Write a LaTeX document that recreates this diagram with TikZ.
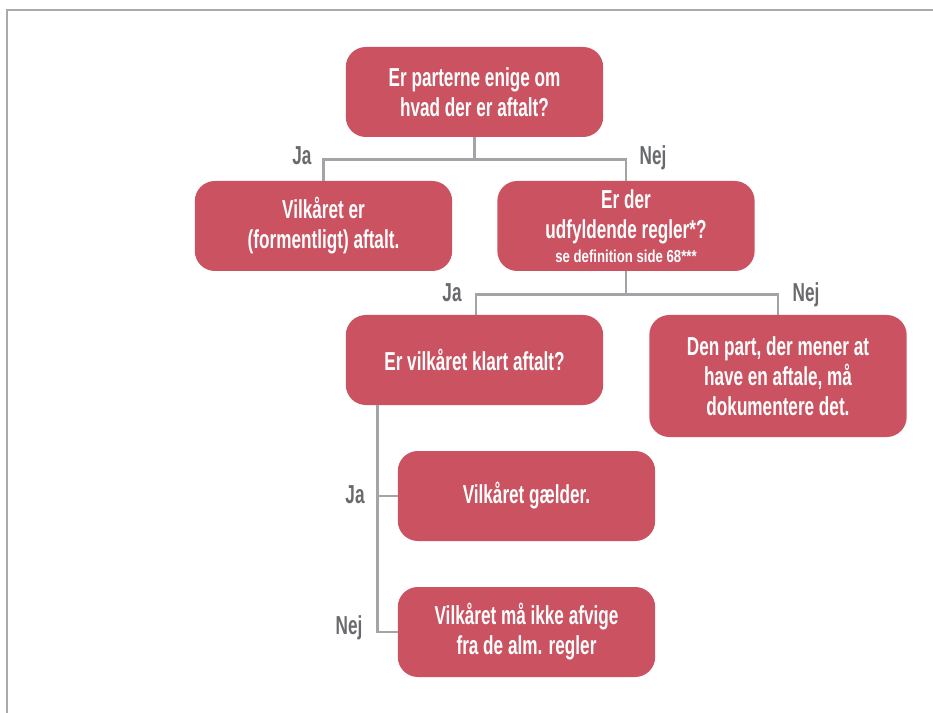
\documentclass[tikz,border=0pt]{standalone}
\usepackage{fontspec}
\newfontfamily\condfont{Liberation Sans}[FakeStretch=0.66]
\newfontfamily\smallcondfont{Liberation Sans}[FakeStretch=0.76]
\definecolor{boxred}{RGB}{203,82,97}
\definecolor{linegray}{RGB}{163,164,168}
\definecolor{labelgray}{RGB}{105,106,110}
\definecolor{framegray}{RGB}{170,170,170}
\begin{document}
\begin{tikzpicture}[
  x=0.75pt, y=-0.75pt,
  box/.style={draw=none, fill=boxred, rounded corners=15pt, text=white,
    align=center, inner sep=0pt, minimum width=193pt, minimum height=67.5pt,
    font=\condfont\bfseries\fontsize{19.5}{22.5}\selectfont},
  conn/.style={draw=linegray, line width=2pt},
  lbl/.style={text=labelgray, anchor=base, inner sep=0pt,
    font=\condfont\bfseries\fontsize{19.5}{22.5}\selectfont},
]
\useasboundingbox (0,0) rectangle (933,713);
% outer frame: top and left edges only
\draw[framegray, line width=1.5pt] (6.5,713) -- (6.5,10.5) -- (933,10.5);

% boxes
\node[box] (q1) at (474.5,92) {Er parterne enige om\\hvad der er aftalt?};
\node[box] (a1) at (323.5,226) {Vilkåret er\\(formentligt) aftalt.};
\node[box] (q2) at (626,226) {Er der\\udfyldende regler*?\\[-5pt]{\smallcondfont\bfseries\fontsize{13}{14}\selectfont se definition side 68***}};
\node[box] (q3) at (474.5,360) {Er vilkåret klart aftalt?};
\node[box, minimum height=91.5pt] (a3) at (778,376) {Den part, der mener at\\have en aftale, må\\dokumentere det.};
\node[box] (a4) at (526.5,496) {Vilkåret gælder.};
\node[box] (a5) at (526.5,632) {Vilkåret må ikke afvige\\fra de alm. regler};

% connectors
\draw[conn] (q1.south) -- ++(0,22) coordinate (j1);
\draw[conn] (a1.north) |- (j1) -| (q2.north);
\draw[conn] (q2.south) -- ++(0,23) coordinate (j2);
\draw[conn] ([xshift=1.1pt]q3.north) |- (j2) -| (a3.north);
\draw[conn] ([xshift=24pt]q3.south west) |- (a5.west);
\draw[conn] ([xshift=24pt]q3.south west) |- (a4.west);

% branch labels
\node[lbl] (ja1) at (302,165) {Ja};
\node[lbl] (nej1) at (653,165) {Nej};
\node[lbl] (ja2) at (452,301) {Ja};
\node[lbl] (nej2) at (806,301) {Nej};
\node[lbl] (ja3) at (355,503) {Ja};
\node[lbl] (nej3) at (349,634) {Nej};
\end{tikzpicture}
\end{document}
